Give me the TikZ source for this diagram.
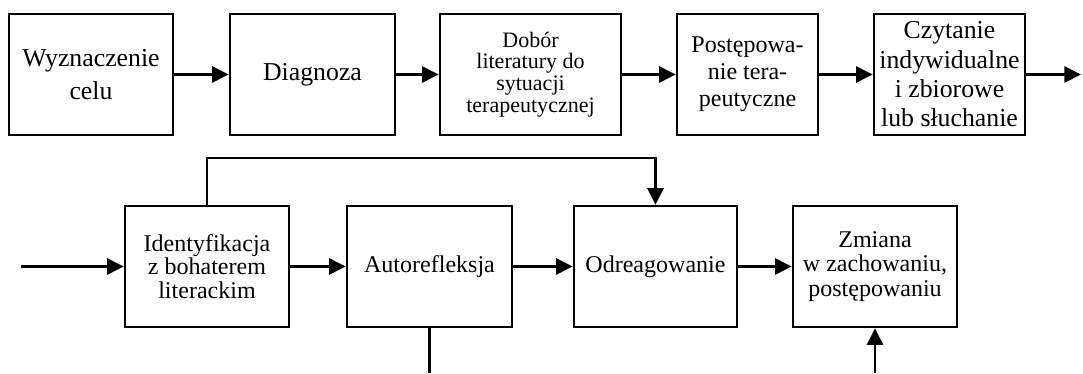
\documentclass[tikz,border=0pt]{standalone}
\usepackage{fontspec}
\setmainfont{Liberation Serif}
\usetikzlibrary{arrows.meta, positioning}

\begin{document}
\begin{tikzpicture}[
  box/.style={draw, line width=2.2pt, minimum height=3.63cm, inner sep=0pt,
    align=center, font=\fontsize{22}{28}\selectfont},
  arr/.style={-{Triangle[length=0.5cm, width=0.48cm]}, line width=2.4pt}
]
  \useasboundingbox (0,0) rectangle (32.49,11.19);
  % upper row
  \node[box, minimum width=4.92cm] (cel) at (2.73,8.955) {Wyznaczenie\\celu};
  \node[box, minimum width=4.95cm] (diag) at (9.375,8.955) {Diagnoza};
  \node[box, minimum width=5.43cm, font=\fontsize{18.8}{18.6}\selectfont] (dobor) at (15.915,8.955)
    {Dobór\\literatury do\\sytuacji\\terapeutycznej};
  \node[box, minimum width=4.23cm, font=\fontsize{20.5}{23}\selectfont] (post) at (22.425,8.955)
    {Postępowa-\\nie tera-\\peutyczne};
  \node[box, minimum width=4.53cm, font=\fontsize{22}{25}\selectfont] (czyt) at (28.485,8.955)
    {Czytanie\\indywidualne\\i zbiorowe\\lub słuchanie};
  \coordinate (wyj) at (32.43,8.955);

  % lower row
  \coordinate (wej) at (0.63,3.195);
  \node[box, minimum width=4.92cm, font=\fontsize{20.5}{20}\selectfont] (ident) at (6.21,3.195)
    {Identyfikacja\\z bohaterem\\literackim};
  \node[box, minimum width=4.95cm, font=\fontsize{20.5}{20}\selectfont] (auto) at (12.885,3.195) {Autorefleksja};
  \node[box, minimum width=4.89cm, font=\fontsize{20.5}{20}\selectfont] (odre) at (19.665,3.195) {Odreagowanie};
  \node[box, minimum width=4.92cm, font=\fontsize{20.5}{21}\selectfont] (zmiana) at (26.25,3.195)
    {Zmiana\\w zachowaniu,\\postępowaniu};
  \coordinate (autodol) at (12.885,0);
  \coordinate (zmdol) at (26.25,0);

  \draw[arr] (cel) -- (diag);
  \draw[arr] (diag) -- (dobor);
  \draw[arr] (dobor) -- (post);
  \draw[arr] (post) -- (czyt);
  \draw[arr] (czyt) -- (wyj);

  \draw[arr] (wej) -- (ident);
  \draw[arr] (ident) -- (auto);
  \draw[arr] (auto) -- (odre);
  \draw[arr] (odre) -- (zmiana);
  \draw[arr] (ident.north) -- ++(0,1.4) -| (odre.north);
  \draw[line width=2.4pt] (auto.south) -- (autodol);
  \draw[arr] (zmdol) -- (zmiana.south);
\end{tikzpicture}
\end{document}
